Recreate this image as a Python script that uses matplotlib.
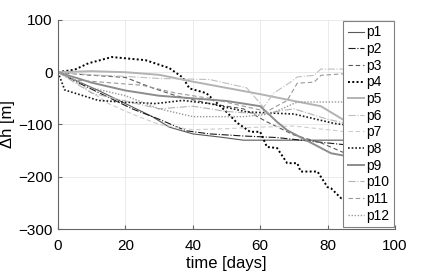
import matplotlib
matplotlib.use("Agg")
import matplotlib.pyplot as plt

plt.rcParams["font.family"] = ["Liberation Sans", "DejaVu Sans"]

# days / height change per point
t_p1 = [0, 5, 12, 20, 28, 33, 40, 48, 55, 87]
h_p1 = [0, -15, -35, -60, -85, -105, -118, -124, -130, -130]
t_p2 = [0, 6, 14, 22, 30, 38, 45, 55, 65, 75, 87]
h_p2 = [0, -20, -45, -70, -90, -112, -118, -122, -125, -132, -140]
t_p3 = [0, 8, 20, 28, 35, 45, 55, 62, 70, 78, 87]
h_p3 = [0, -5, -10, -30, -45, -60, -70, -95, -120, -135, -160]
t_p4 = [0, 5, 9, 16, 26, 33, 37, 39, 44, 50, 53, 57, 60, 62, 65, 68, 71, 72, 77, 80, 81, 84, 87]
h_p4 = [0, 5, 17, 29, 23, 8, -10, -31, -40, -76, -96, -114, -114, -143, -145, -174, -174, -190, -190, -220, -222, -241, -241]
t_p5 = [0, 10, 20, 30, 40, 50, 60, 70, 78, 87]
h_p5 = [0, 2, 0, -5, -18, -30, -42, -55, -65, -100]
t_p6 = [0, 10, 20, 30, 45, 56, 61, 64, 69, 71, 76, 78, 87]
h_p6 = [0, -5, -8, -12, -14, -30, -67, -40, -19, -9, -6, 6, 6]
t_p7 = [0, 8, 15, 22, 30, 40, 50, 60, 70, 80, 87]
h_p7 = [0, -30, -60, -80, -100, -110, -108, -105, -103, -110, -115]
t_p8 = [0, 2, 12, 19, 29, 37, 45, 56, 70, 82, 87]
h_p8 = [0, -34, -54, -57, -60, -54, -60, -76, -80, -98, -102]
t_p9 = [0, 10, 20, 30, 40, 50, 60, 65, 68, 81, 87]
h_p9 = [0, -20, -35, -45, -50, -55, -65, -95, -111, -155, -162]
t_p10 = [0, 10, 20, 30, 40, 50, 60, 70, 80, 87]
h_p10 = [0, -40, -55, -70, -65, -75, -80, -70, -90, -100]
t_p11 = [0, 5, 15, 25, 35, 45, 55, 62, 68, 71, 76, 78, 87]
h_p11 = [0, -15, -20, -25, -40, -50, -65, -75, -54, -21, -19, -6, -2]
t_p12 = [0, 10, 20, 30, 40, 55, 63, 71, 87]
h_p12 = [0, -30, -45, -70, -85, -85, -80, -57, -57]

dot = (0, (1, 1.2))
series = [
    ("p1", t_p1, h_p1, "-", "0.35", 0.8),
    ("p2", t_p2, h_p2, "-.", "0.1", 0.8),
    ("p3", t_p3, h_p3, (0, (4, 2.5)), "0.35", 0.8),
    ("p4", t_p4, h_p4, dot, "0.0", 1.4),
    ("p5", t_p5, h_p5, "-", "0.7", 1.4),
    ("p6", t_p6, h_p6, "-.", "0.75", 0.8),
    ("p7", t_p7, h_p7, (0, (4, 2.5)), "0.8", 0.8),
    ("p8", t_p8, h_p8, dot, "0.1", 1.2),
    ("p9", t_p9, h_p9, "-", "0.55", 1.4),
    ("p10", t_p10, h_p10, "-.", "0.7", 0.8),
    ("p11", t_p11, h_p11, (0, (4, 2.5)), "0.6", 0.8),
    ("p12", t_p12, h_p12, dot, "0.6", 1.0),
]

fig = plt.figure(figsize=(4.36, 2.73), dpi=100)
ax = fig.add_axes([0.133, 0.161, 0.773, 0.766])
for name, t, h, ls, col, lw in series:
    ax.plot(t, h, ls=ls, color=col, lw=lw, label=name)

ax.set_xlim(0, 100)
ax.set_ylim(-300, 100)
ax.set_xticks(range(0, 101, 20))
ax.set_yticks(range(-300, 101, 100))
ax.grid(True, color="0.9", lw=0.6)
ax.set_axisbelow(True)
for s in ["top", "right"]:
    ax.spines[s].set_visible(False)
for s in ["left", "bottom"]:
    ax.spines[s].set_color("0.4")
ax.tick_params(direction="in", length=3, color="0.4", labelsize=11)
ax.tick_params(axis="x", pad=7)
ax.tick_params(axis="y", pad=4)
ax.set_xlabel("time [days]", fontsize=12, labelpad=2)
ax.set_ylabel("Δh [m]", fontsize=12, labelpad=2)

leg = ax.legend(loc="upper right", fontsize=10, handlelength=1.2, handletextpad=0.15,
                labelspacing=0.19, borderpad=0.3, borderaxespad=0.1,
                fancybox=False, framealpha=1, edgecolor="0.5")
leg.get_frame().set_linewidth(0.8)

fig.savefig("out.png", dpi=100)
